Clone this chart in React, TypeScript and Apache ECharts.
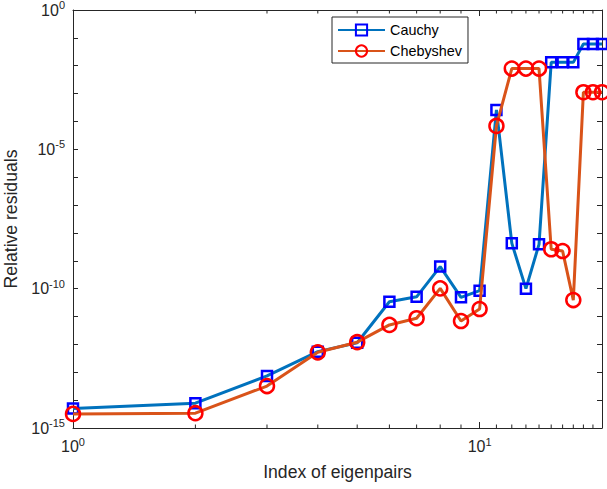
import React, { useEffect, useRef } from "react";
import * as echarts from "echarts";

const indices = [1, 2, 3, 4, 5, 6, 7, 8, 9, 10, 11, 12, 13, 14, 15, 16, 17, 18, 19, 20];
const cauchy = [
  5.0e-15, 7.8e-15, 7.4e-14, 5.5e-13, 1.15e-12, 3.4e-11, 5.1e-11, 6.2e-10, 4.9e-11, 8.5e-11,
  2.6e-4, 4.3e-9, 1.0e-10, 3.9e-9, 1.32e-2, 1.32e-2, 1.32e-2, 6.0e-2, 6.0e-2, 6.0e-2,
];
const chebyshev = [
  3.2e-15, 3.4e-15, 3.2e-14, 5.2e-13, 1.2e-12, 5.0e-12, 8.7e-12, 1.02e-10, 6.9e-12, 1.86e-11,
  6.9e-5, 7.9e-3, 7.9e-3, 7.9e-3, 2.6e-9, 2.24e-9, 3.9e-11, 1.12e-3, 1.12e-3, 1.12e-3,
];
const xMinorTicks = [2, 3, 4, 5, 6, 7, 8, 9, 11, 12, 13, 14, 15, 16, 17, 18, 19];
const yLabelExps = [-15, -10, -5, 0];
const xRange = [1, 20];
const yRange = [1e-15, 1];

const axisColor = "#262626";
const FONT = "Liberation Sans, Arial, Helvetica, sans-serif";

const rich = {
  b: { fontSize: 16, fontFamily: FONT, color: axisColor },
  s: { fontSize: 11, fontFamily: FONT, color: axisColor, padding: [0, 0, 10, 0] },
};

export default function App() {
  const ref = useRef<HTMLDivElement>(null);
  useEffect(() => {
    if (!ref.current) return;
    const chart = echarts.init(ref.current, null, { renderer: "svg" });
    const xMin = Math.log10(xRange[0]);
    const xMax = Math.log10(xRange[1]);
    const yMin = Math.log10(yRange[0]);
    const yMax = Math.log10(yRange[1]);
    const toPts = (vals: number[]) => indices.map((x, i) => [Math.log10(x), Math.log10(vals[i])]);
    const xLabel = (v: number) => {
      const e = Math.round(v);
      if (Math.abs(v - e) > 1e-6) return "";
      return `{b|10}{s|${e}}`;
    };
    const yLabel = (v: number) => {
      const e = Math.round(v);
      if (!yLabelExps.includes(e)) return "";
      return `{b|10}{s|${e}}`;
    };
    const baseX = {
      type: "value",
      min: xMin,
      max: xMax,
      interval: 1,
      splitLine: { show: false },
      axisLine: { show: true, onZero: false, lineStyle: { color: axisColor, width: 1 } },
      axisTick: { show: true, inside: true, length: 6, lineStyle: { color: axisColor } },
    };
    const baseY = {
      type: "value",
      min: yMin,
      max: yMax,
      interval: 1,
      splitLine: { show: false },
      axisLine: { show: true, onZero: false, lineStyle: { color: axisColor, width: 1 } },
      axisTick: { show: true, inside: true, length: 5, lineStyle: { color: axisColor } },
    };
    chart.setOption({
      animation: false,
      backgroundColor: "#ffffff",
      grid: { left: 73, right: 5, top: 10, bottom: 61, containLabel: false, outerBoundsMode: "none" },
      legend: {
        left: 332,
        top: 17,
        orient: "vertical",
        itemWidth: 47,
        itemHeight: 14,
        itemGap: 7,
        padding: [6, 6, 5, 5],
        backgroundColor: "#ffffff",
        borderColor: axisColor,
        borderWidth: 1,
        borderRadius: 0,
        textStyle: { fontSize: 14.4, fontFamily: FONT, color: "#000000" },
        data: ["Cauchy", "Chebyshev"],
      },
      xAxis: [
        {
          ...baseX,
          position: "bottom",
          name: "Index of eigenpairs",
          nameLocation: "middle",
          nameGap: 35,
          nameTextStyle: { fontSize: 17.6, fontFamily: FONT, color: axisColor },
          axisLabel: { show: true, margin: 8, showMaxLabel: false, formatter: xLabel, rich },
        },
        { ...baseX, position: "top", axisLabel: { show: false } },
      ],
      yAxis: [
        {
          ...baseY,
          position: "left",
          name: "Relative residuals",
          nameLocation: "middle",
          nameGap: 52,
          nameTextStyle: { fontSize: 17.6, fontFamily: FONT, color: axisColor },
          axisLabel: { show: true, margin: 8, formatter: yLabel, rich },
        },
        { ...baseY, position: "right", axisLabel: { show: false } },
      ],
      series: [
        {
          type: "custom",
          silent: true,
          clip: false,
          xAxisIndex: 0,
          yAxisIndex: 0,
          data: xMinorTicks.map((t) => [Math.log10(t)]),
          encode: { x: 0 },
          renderItem: (params: any, api: any) => {
            const xv = api.value(0);
            const b = api.coord([xv, yMin]);
            const t = api.coord([xv, yMax]);
            const style = { stroke: axisColor, lineWidth: 1 };
            return {
              type: "group",
              children: [
                { type: "line", shape: { x1: b[0], y1: b[1], x2: b[0], y2: b[1] - 3.5 }, style },
                { type: "line", shape: { x1: t[0], y1: t[1], x2: t[0], y2: t[1] + 3.5 }, style },
              ],
            };
          },
        },
        {
          name: "Cauchy",
          type: "line",
          clip: false,
          data: toPts(cauchy),
          symbol: "rect",
          symbolSize: 10,
          lineStyle: { color: "#0072BD", width: 3 },
          itemStyle: { color: "rgba(255,255,255,0)", borderColor: "#0000FF", borderWidth: 2.5 },
          z: 3,
        },
        {
          name: "Chebyshev",
          type: "line",
          clip: false,
          data: toPts(chebyshev),
          symbol: "circle",
          symbolSize: 14,
          lineStyle: { color: "#D95319", width: 3 },
          itemStyle: { color: "rgba(255,255,255,0)", borderColor: "#FF0000", borderWidth: 2.5 },
          z: 4,
        },
      ],
    });
    return () => chart.dispose();
  }, []);
  return <div ref={ref} style={{ width: 607, height: 489, position: "absolute", left: 0, top: 0 }} />;
}
